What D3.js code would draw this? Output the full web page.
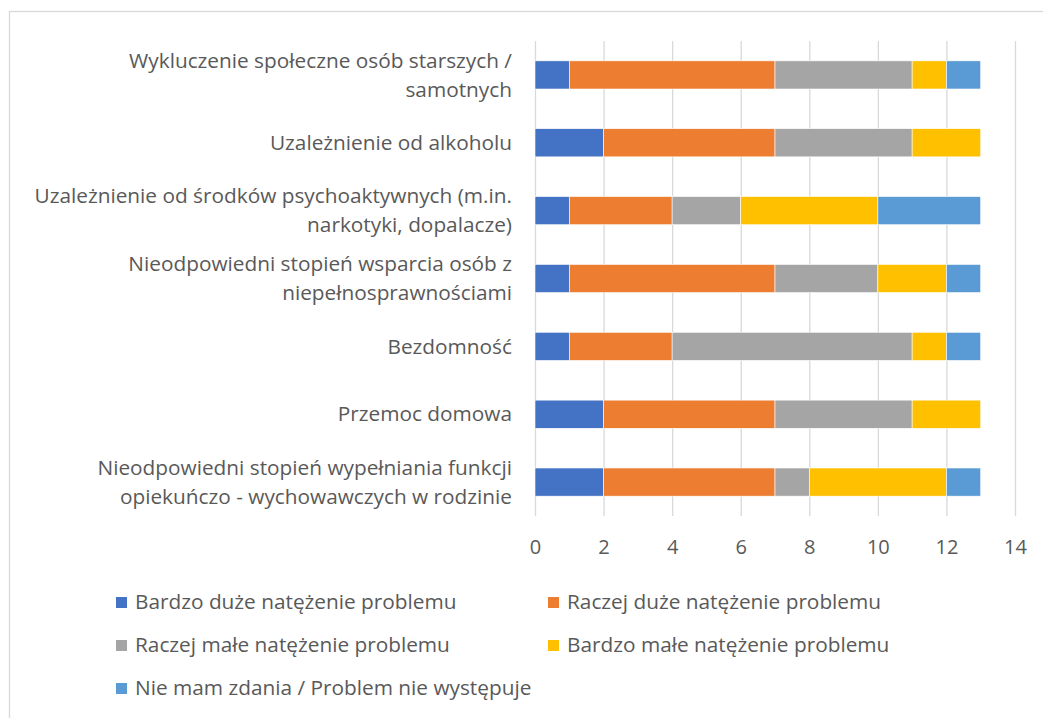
<!DOCTYPE html>
<html>
<head>
<meta charset="utf-8">
<script src="https://cdn.jsdelivr.net/npm/d3@7"></script>
<style>
  body { margin: 0; background: #fff; }
  svg { display: block; font-family: "Open Sans", sans-serif; }
</style>
</head>
<body>
<svg id="chart" width="1043" height="718"></svg>
<script>
// categories, top to bottom ("\n" marks where the label wraps)
let categories = [
  "Wykluczenie społeczne osób starszych /\nsamotnych",
  "Uzależnienie od alkoholu",
  "Uzależnienie od środków psychoaktywnych (m.in.\nnarkotyki, dopalacze)",
  "Nieodpowiedni stopień wsparcia osób z\nniepełnosprawnościami",
  "Bezdomność",
  "Przemoc domowa",
  "Nieodpowiedni stopień wypełniania funkcji\nopiekuńczo - wychowawczych w rodzinie"
];

let seriesNames = [
  "Bardzo duże natężenie problemu",
  "Raczej duże natężenie problemu",
  "Raczej małe natężenie problemu",
  "Bardzo małe natężenie problemu",
  "Nie mam zdania / Problem nie występuje"
];

let bardzoDuze   = [1, 2, 1, 1, 1, 2, 2];
let raczejDuze   = [6, 5, 3, 6, 3, 5, 5];
let raczejMale   = [4, 4, 2, 3, 7, 4, 1];
let bardzoMale   = [1, 2, 4, 2, 1, 2, 4];
let nieMamZdania = [1, 0, 3, 1, 1, 0, 1];

let xTicks = [0, 2, 4, 6, 8, 10, 12, 14];

let colors = ["#4472C4", "#ED7D31", "#A5A5A5", "#FFC000", "#5B9BD5"];

let svg = d3.select("#chart");
let textColor = "#595959";
let fontSize = "20.8px";

// chart frame
svg.append("rect")
  .attr("x", 9.5).attr("y", 11.5)
  .attr("width", 1100).attr("height", 800)
  .attr("fill", "none").attr("stroke", "#d9d9d9").attr("stroke-width", 1.3);

let rows = categories.map((c, i) => ({
  category: c,
  [seriesNames[0]]: bardzoDuze[i],
  [seriesNames[1]]: raczejDuze[i],
  [seriesNames[2]]: raczejMale[i],
  [seriesNames[3]]: bardzoMale[i],
  [seriesNames[4]]: nieMamZdania[i]
}));

let x = d3.scaleLinear().domain([0, 14]).range([535, 1015]);
let y = d3.scaleBand().domain(categories).range([41, 516]).paddingInner(0.585).paddingOuter(0.2925);

// vertical gridlines
svg.append("g")
  .selectAll("line")
  .data(xTicks)
  .enter()
  .append("line")
  .attr("x1", d => x(d) + 0.5).attr("x2", d => x(d) + 0.5)
  .attr("y1", 41).attr("y2", 516)
  .attr("stroke", "#d9d9d9").attr("stroke-width", 1.3);

// x tick labels
let xAxis = svg.append("g")
  .attr("transform", "translate(0,516)")
  .call(d3.axisBottom(x).tickValues(xTicks).tickSize(0).tickPadding(24));
xAxis.select(".domain").remove();
xAxis.selectAll("text")
  .attr("fill", textColor)
  .style("font-size", "20px")
  .style("font-family", '"Open Sans", sans-serif');

// stacked bars
let stacked = d3.stack().keys(seriesNames)(rows);

svg.append("g")
  .selectAll("g")
  .data(stacked)
  .enter()
  .append("g")
  .attr("fill", (d, i) => colors[i])
  .selectAll("rect")
  .data(d => d)
  .enter()
  .append("rect")
  .attr("x", d => x(d[0]))
  .attr("width", d => x(d[1]) - x(d[0]))
  .attr("y", d => y(d.data.category))
  .attr("height", y.bandwidth())
  .attr("stroke", "#fff")
  .attr("stroke-width", 0.6);

// category labels
let labels = svg.append("g")
  .selectAll("text")
  .data(categories)
  .enter()
  .append("text")
  .attr("text-anchor", "end")
  .attr("fill", textColor)
  .style("font-size", fontSize);

labels.each(function (d) {
  let lines = d.split("\n");
  let cy = y(d) + y.bandwidth() / 2;
  let lh = 29;
  let t = d3.select(this);
  lines.forEach((line, k) => {
    t.append("tspan")
      .attr("x", 512)
      .attr("y", cy + (k - (lines.length - 1) / 2) * lh)
      .attr("dy", "0.35em")
      .text(line);
  });
});

// legend
let legendPos = [[116, 602], [548, 602], [116, 645], [548, 645], [116, 688]];
let legend = svg.append("g")
  .selectAll("g")
  .data(seriesNames)
  .enter()
  .append("g")
  .attr("transform", (d, i) => "translate(" + legendPos[i][0] + "," + legendPos[i][1] + ")");

legend.append("rect")
  .attr("x", 0).attr("y", -5)
  .attr("width", 11).attr("height", 11)
  .attr("fill", (d, i) => colors[i]);

legend.append("text")
  .attr("x", 19)
  .attr("dy", "0.35em")
  .attr("fill", textColor)
  .style("font-size", fontSize)
  .text(d => d);
</script>
</body>
</html>
